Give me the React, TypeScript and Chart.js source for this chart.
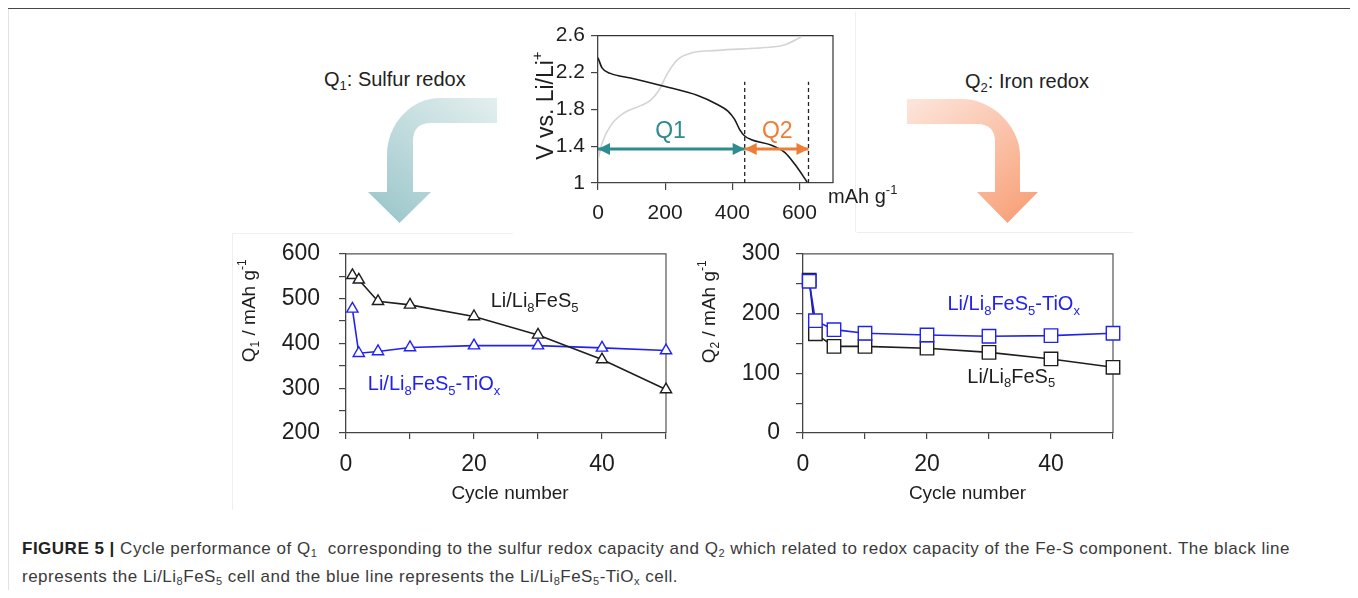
import React, { useEffect, useRef } from 'react';
import { Chart, registerables } from 'chart.js';
Chart.register(...registerables);

const FONT = '"Liberation Sans", Arial, Helvetica, sans-serif';

// ---------- top panel: voltage profile ----------
const dischargeCap = [0, 12, 37, 97, 197, 297, 357, 387, 407, 422, 437, 457, 517, 557, 587, 623];
const dischargeV = [2.36, 2.25, 2.19, 2.14, 2.05, 1.95, 1.85, 1.78, 1.69, 1.58, 1.51, 1.47, 1.41, 1.33, 1.2, 1.01];
const chargeCap = [0, 12, 37, 77, 127, 157, 182, 207, 237, 277, 357, 497, 557, 607];
const chargeV = [1.25, 1.43, 1.62, 1.76, 1.84, 1.9, 2.01, 2.19, 2.34, 2.41, 2.44, 2.47, 2.5, 2.59];
const q1Start = 0;
const q1End = 437;
const q2End = 627;
const arrowLevel = 1.37;
const dashLow = 1.0;
const dashHigh = 2.1;
const capTicks = [0, 200, 400, 600];
const voltTicks = [1, 1.4, 1.8, 2.2, 2.6];

// ---------- bottom panels: cycling ----------
const cycles = [1, 2, 5, 10, 20, 30, 40, 50];
const q1Bare = [552, 542, 494, 486, 460, 419, 364, 297];
const q1TiOx = [477, 378, 382, 391, 395, 395, 390, 384];
const q2Bare = [256, 166, 145, 145, 142, 135, 124, 110];
const q2TiOx = [254, 188, 173, 167, 164, 162, 163, 167];

const TEAL = '#2e8b8e';
const ORANGE = '#ee7d36';
const BLUE = '#2222ee';
const INK = '#1e1e1e';

type Seg = { t: string; s?: 'sub' | 'sup' };
type Label = {
  segs: Seg[];
  mode: 'data' | 'area';
  x: number;
  y: number;
  size: number;
  color: string;
  align?: 'left' | 'center';
  rot?: number;
};

function drawRich(ctx: CanvasRenderingContext2D, l: Label, px: number, py: number) {
  const size = l.size;
  const fontFor = (s?: string) => `${s ? Math.round(size * 0.65) : size}px ${FONT}`;
  ctx.save();
  ctx.translate(px, py);
  if (l.rot) ctx.rotate(l.rot);
  ctx.fillStyle = l.color;
  ctx.textBaseline = 'middle';
  ctx.textAlign = 'left';
  let total = 0;
  for (const sg of l.segs) {
    ctx.font = fontFor(sg.s);
    total += ctx.measureText(sg.t).width;
  }
  let cx = l.align === 'center' ? -total / 2 : 0;
  for (const sg of l.segs) {
    ctx.font = fontFor(sg.s);
    const dy = sg.s === 'sub' ? size * 0.32 : sg.s === 'sup' ? -size * 0.38 : 0;
    ctx.fillText(sg.t, cx, dy);
    cx += ctx.measureText(sg.t).width;
  }
  ctx.restore();
}

function makePlugins(labels: Label[], frameColor: string, extra?: (chart: any) => void) {
  return [
    {
      id: 'frame',
      beforeDatasetsDraw(chart: any) {
        const a = chart.chartArea;
        const ctx = chart.ctx;
        ctx.save();
        ctx.strokeStyle = frameColor;
        ctx.lineWidth = 1.2;
        ctx.beginPath();
        ctx.moveTo(a.left, a.top);
        ctx.lineTo(a.right, a.top);
        ctx.lineTo(a.right, a.bottom);
        ctx.stroke();
        ctx.restore();
      },
    },
    {
      id: 'labels',
      afterDraw(chart: any) {
        if (extra) extra(chart);
        const a = chart.chartArea;
        for (const l of labels) {
          let px: number, py: number;
          if (l.mode === 'data') {
            px = chart.scales.x.getPixelForValue(l.x);
            py = chart.scales.y.getPixelForValue(l.y);
          } else {
            px = a.left + l.x;
            py = a.top + l.y;
          }
          drawRich(chart.ctx, l, px, py);
        }
      },
    },
  ];
}

function axisCommon(fontSize: number, padding: number, tickLength: number) {
  return {
    type: 'linear' as const,
    ticks: {
      font: { family: FONT, size: fontSize },
      color: INK,
      padding,
      autoSkip: false,
      maxRotation: 0,
      includeBounds: false,
    },
    grid: {
      display: true,
      drawOnChartArea: false,
      drawTicks: true,
      tickLength,
      color: '#444',
      lineWidth: 1.2,
    },
    border: { display: true, color: '#444', width: 1.3 },
  };
}

const lbl = (segs: Seg[], mode: 'data' | 'area', x: number, y: number, size: number, color: string, align: 'left' | 'center' = 'left', rot = 0): Label => ({ segs, mode, x, y, size, color, align, rot });

const bareName: Seg[] = [{ t: 'Li/Li' }, { t: '8', s: 'sub' }, { t: 'FeS' }, { t: '5', s: 'sub' }];
const tioxName: Seg[] = [...bareName, { t: '-TiO' }, { t: 'x', s: 'sub' }];

function cyclingConfig(
  bare: number[],
  tiox: number[],
  yMin: number,
  yMax: number,
  pointStyle: string,
  radius: number,
  yWidth: number,
  yPad: number,
  rightPad: number,
  labels: Label[],
  blueFirst: boolean
) {
  const ds = [
    {
      label: 'Li/Li8FeS5',
      data: cycles.map((c, i) => ({ x: c, y: bare[i] })),
      borderColor: INK,
      pointBorderColor: INK,
      pointBackgroundColor: '#fff',
      borderWidth: 1.6,
      pointBorderWidth: 1.4,
      pointRadius: radius,
      pointStyle,
      clip: false,
    },
    {
      label: 'Li/Li8FeS5-TiOx',
      data: cycles.map((c, i) => ({ x: c, y: tiox[i] })),
      borderColor: BLUE,
      pointBorderColor: BLUE,
      pointBackgroundColor: '#fff',
      borderWidth: 1.6,
      pointBorderWidth: 1.4,
      pointRadius: radius,
      pointStyle,
      clip: false,
    },
  ];
  const x: any = axisCommon(23, 12, 6);
  x.min = 0;
  x.max = 50;
  x.ticks.stepSize = 10;
  x.ticks.callback = (v: number) => (v % 20 === 0 ? String(v) : '');
  x.afterFit = (s: any) => {
    s.height = 77;
  };
  const y: any = axisCommon(23, yPad, 7);
  y.min = yMin;
  y.max = yMax;
  y.ticks.stepSize = 50;
  y.ticks.callback = (v: number) => (v % 100 === 0 ? String(v) : '');
  y.afterFit = (s: any) => {
    s.width = yWidth;
  };
  return {
    type: 'line' as const,
    data: { datasets: blueFirst ? [ds[1], ds[0]] : ds },
    options: {
      animation: false as const,
      responsive: false,
      parsing: false as const,
      layout: { padding: { left: 0, top: 0, right: rightPad, bottom: 0 } },
      plugins: { legend: { display: false }, tooltip: { enabled: false } },
      scales: { x, y },
    },
    plugins: makePlugins(labels, '#555'),
  };
}

function topConfig() {
  const x: any = axisCommon(21, 11, 7);
  x.min = 0;
  x.max = 700;
  x.ticks.stepSize = 200;
  x.afterBuildTicks = (s: any) => {
    s.ticks = capTicks.map((v) => ({ value: v }));
  };
  x.afterFit = (s: any) => {
    s.height = 47;
  };
  const y: any = axisCommon(21, 6, 7);
  y.min = 1;
  y.max = 2.6;
  y.afterBuildTicks = (s: any) => {
    s.ticks = voltTicks.map((v) => ({ value: v }));
  };
  y.ticks.callback = (v: number) => String(Number(v.toFixed(1)));
  y.afterFit = (s: any) => {
    s.width = 78;
  };
  const labels: Label[] = [
    lbl([{ t: 'V vs. Li/Li' }, { t: '+', s: 'sup' }], 'area', -51, 70, 23, INK, 'center', -Math.PI / 2),
    lbl([{ t: 'mAh g' }, { t: '-1', s: 'sup' }], 'area', 230, 162, 20, INK, 'left'),
    lbl([{ t: 'Q1' }], 'data', 216, 1.555, 23, TEAL, 'center'),
    lbl([{ t: 'Q2' }], 'data', 534, 1.555, 23, ORANGE, 'center'),
  ];
  const heads = (chart: any) => {
    const ctx = chart.ctx;
    const sx = chart.scales.x;
    const sy = chart.scales.y;
    const yy = sy.getPixelForValue(arrowLevel);
    const head = (xv: number, dir: number, color: string) => {
      const tip = sx.getPixelForValue(xv);
      ctx.save();
      ctx.fillStyle = color;
      ctx.beginPath();
      ctx.moveTo(tip, yy);
      ctx.lineTo(tip - dir * 12, yy - 6);
      ctx.lineTo(tip - dir * 12, yy + 6);
      ctx.closePath();
      ctx.fill();
      ctx.restore();
    };
    head(q1Start, -1, TEAL);
    head(q1End, 1, TEAL);
    head(q1End, -1, ORANGE);
    head(q2End, 1, ORANGE);
  };
  return {
    type: 'line' as const,
    data: {
      datasets: [
        {
          label: 'Q1',
          data: [
            { x: q1Start, y: arrowLevel },
            { x: q1End, y: arrowLevel },
          ],
          borderColor: TEAL,
          borderWidth: 3,
          pointRadius: 0,
        },
        {
          label: 'Q2',
          data: [
            { x: q1End, y: arrowLevel },
            { x: q2End, y: arrowLevel },
          ],
          borderColor: ORANGE,
          borderWidth: 3,
          pointRadius: 0,
        },
        {
          label: 'div1',
          data: [
            { x: q1End, y: dashLow },
            { x: q1End, y: dashHigh },
          ],
          borderColor: '#222',
          borderWidth: 1.3,
          borderDash: [4, 3],
          pointRadius: 0,
        },
        {
          label: 'div2',
          data: [
            { x: q2End, y: dashLow },
            { x: q2End, y: dashHigh },
          ],
          borderColor: '#222',
          borderWidth: 1.3,
          borderDash: [4, 3],
          pointRadius: 0,
        },
        {
          label: 'discharge',
          data: dischargeCap.map((c, i) => ({ x: c, y: dischargeV[i] })),
          borderColor: '#1a1a1a',
          borderWidth: 1.6,
          pointRadius: 0,
          cubicInterpolationMode: 'monotone',
        },
        {
          label: 'charge',
          data: chargeCap.map((c, i) => ({ x: c, y: chargeV[i] })),
          borderColor: '#d4d4d4',
          borderWidth: 1.6,
          pointRadius: 0,
          cubicInterpolationMode: 'monotone',
        },
      ],
    },
    options: {
      animation: false as const,
      responsive: false,
      parsing: false as const,
      layout: { padding: { left: 0, top: 0, right: 77, bottom: 0 } },
      plugins: { legend: { display: false }, tooltip: { enabled: false } },
      scales: { x, y },
    },
    plugins: makePlugins(labels, '#333', heads),
  };
}

const abs = (left: number, top: number): React.CSSProperties => ({ position: 'absolute', left, top });
const sub: React.CSSProperties = { fontSize: '0.65em', verticalAlign: '-0.3em', lineHeight: 0 };

export default function App() {
  const topRef = useRef<HTMLCanvasElement>(null);
  const leftRef = useRef<HTMLCanvasElement>(null);
  const rightRef = useRef<HTMLCanvasElement>(null);

  useEffect(() => {
    document.body.style.overflow = 'hidden';
    const charts: Chart[] = [];
    charts.push(new Chart(topRef.current!, topConfig() as any));
    charts.push(
      new Chart(
        leftRef.current!,
        cyclingConfig(q1Bare, q1TiOx, 200, 600, 'triangle', 6.5, 116, 19, 14, [
          lbl([{ t: 'Q' }, { t: '1', s: 'sub' }, { t: ' / mAh g' }, { t: '-1', s: 'sup' }], 'area', -96, 57, 19, INK, 'center', -Math.PI / 2),
          lbl([{ t: 'Cycle number' }], 'area', 164, 240, 19, INK, 'center'),
          lbl(bareName, 'data', 22.6, 493, 20, INK),
          lbl(tioxName, 'data', 3.4, 308, 20, BLUE),
        ], false) as any
      )
    );
    charts.push(
      new Chart(
        rightRef.current!,
        cyclingConfig(q2Bare, q2TiOx, 0, 300, 'rect', 9.5, 113, 16, 27, [
          lbl([{ t: 'Q' }, { t: '2', s: 'sub' }, { t: ' / mAh g' }, { t: '-1', s: 'sup' }], 'area', -93, 58, 19, INK, 'center', -Math.PI / 2),
          lbl([{ t: 'Cycle number' }], 'area', 164.5, 240, 19, INK, 'center'),
          lbl(tioxName, 'data', 23.3, 215, 20, BLUE),
          lbl(bareName, 'data', 26.5, 93, 20, INK),
        ], true) as any
      )
    );
    return () => charts.forEach((c) => c.destroy());
  }, []);

  return (
    <div style={{ position: 'relative', width: 1342, height: 582 }}>
      <div style={{ position: 'absolute', left: -8, top: -8, width: 1358, height: 598, fontFamily: FONT }}>
        <svg width={1358} height={598} style={{ position: 'absolute', left: 0, top: 0 }}>
          <defs>
            <linearGradient id="tealG" x1="1" y1="0" x2="0.2" y2="1">
              <stop offset="0" stopColor="#e4efef" />
              <stop offset="1" stopColor="#9ec8cc" />
            </linearGradient>
            <linearGradient id="peachG" x1="0" y1="0" x2="0.8" y2="1">
              <stop offset="0" stopColor="#fde6dd" />
              <stop offset="1" stopColor="#f8a27a" />
            </linearGradient>
          </defs>
          <line x1={7} y1={8} x2={1357} y2={8} stroke="#464646" strokeWidth={2} />
          <line x1={7.5} y1={8} x2={7.5} y2={598} stroke="#8a8a8a" strokeWidth={1.5} />
          <line x1={1355.5} y1={8} x2={1355.5} y2={598} stroke="#8a8a8a" strokeWidth={1.5} />
          <g stroke="#efefef" strokeWidth={1}>
            <line x1={232} y1={233.5} x2={513} y2={233.5} />
            <line x1={232.5} y1={233} x2={232.5} y2={510} />
            <line x1={857} y1={232.5} x2={1133} y2={232.5} />
            <line x1={855.5} y1={12} x2={855.5} y2={232} />
          </g>
          <path
            d="M497 98 L440 98 C411 98 387 124 387 155 L387 192 L368 192 L399.5 223 L431 192 L413 192 L413 141 Q413 123 431 123 L497 123 Z"
            fill="url(#tealG)"
          />
          <path
            d="M907 99 L962 99 C991 99 1020 125 1020 156 L1020 192 L1038 192 L1007.5 223 L977 192 L995 192 L995 142 Q995 124 977 124 L907 124 Z"
            fill="url(#peachG)"
          />
        </svg>
        <div style={{ ...abs(324, 68), fontSize: 20, color: '#222', lineHeight: '22px', whiteSpace: 'nowrap' }}>
          Q<span style={sub}>1</span>: Sulfur redox
        </div>
        <div style={{ ...abs(965, 70), fontSize: 20, color: '#222', lineHeight: '22px', whiteSpace: 'nowrap' }}>
          Q<span style={sub}>2</span>: Iron redox
        </div>
        <canvas ref={topRef} width={390} height={213} style={{ ...abs(520, 17), width: 390, height: 213 }} />
        <canvas ref={leftRef} width={450} height={289} style={{ ...abs(230, 221), width: 450, height: 289 }} />
        <canvas ref={rightRef} width={450} height={286} style={{ ...abs(690, 224), width: 450, height: 286 }} />
        <div
          style={{
            ...abs(22, 535),
            fontSize: 17,
            letterSpacing: '0.5px',
            lineHeight: '28px',
            color: '#3a3a3a',
            whiteSpace: 'nowrap',
          }}
        >
          <b style={{ color: '#222' }}>FIGURE 5 |</b> Cycle performance of Q<span style={sub}>1</span>&nbsp; corresponding to the sulfur
          redox capacity and Q<span style={sub}>2</span> which related to redox capacity of the Fe-S component. The black line
          <br />
          represents the Li/Li<span style={sub}>8</span>FeS<span style={sub}>5</span> cell and the blue line represents the Li/Li
          <span style={sub}>8</span>FeS<span style={sub}>5</span>-TiO<span style={sub}>x</span> cell.
        </div>
      </div>
    </div>
  );
}
